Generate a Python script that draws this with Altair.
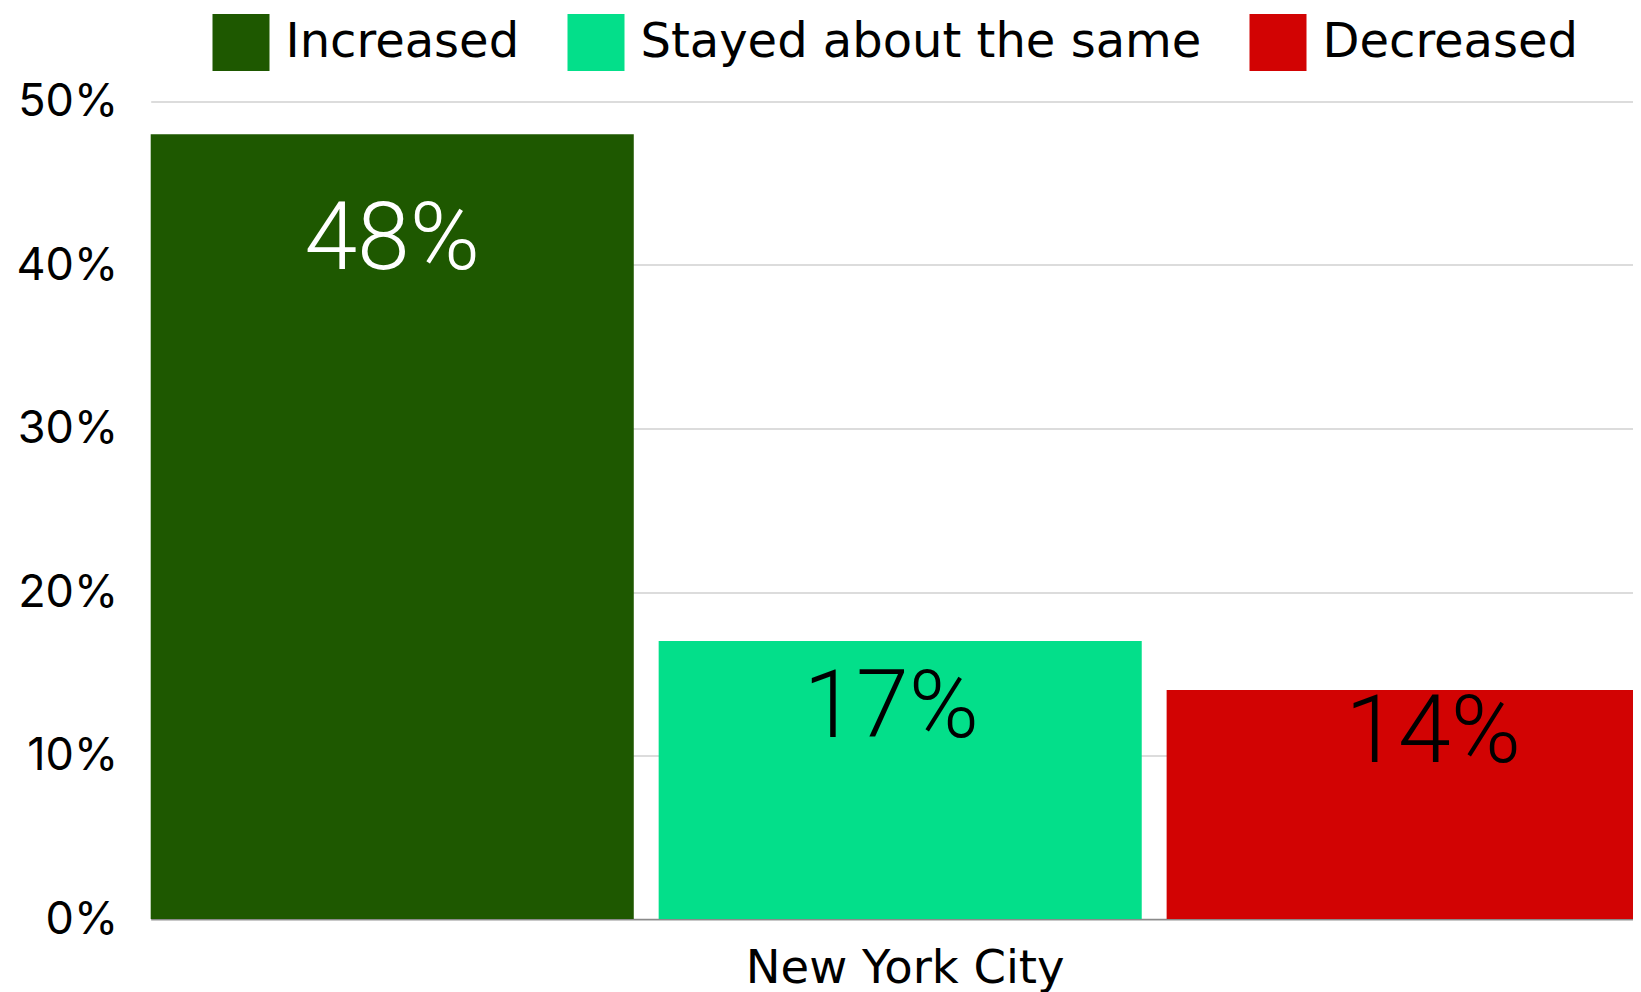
import altair as alt
import pandas as pd

# ---- data ----
city = "New York City"
categories = ["Increased", "Stayed about the same", "Decreased"]
values = [0.48, 0.17, 0.14]
colors = ["#1e5800", "#03df8a", "#d20303"]
y_ticks = [0, 0.1, 0.2, 0.3, 0.4, 0.5]

df = pd.DataFrame({"category": categories, "value": values})

TICK_FONT = "Inter"
TEXT_FONT = "DejaVu Sans"
LABEL_FONT = "Roboto"

x_enc = alt.X(
    "category:N", sort=categories, title=city,
    scale=alt.Scale(paddingInner=0.049, paddingOuter=0),
    axis=alt.Axis(labels=False, ticks=False, grid=False,
                  domainColor="#8a8a8a", domainWidth=1.5,
                  titleFont=TEXT_FONT, titleFontSize=46.5, titleFontWeight="normal",
                  titleColor="#000000", titleX=754, titleY=63,
                  titleBaseline="alphabetic", titleAlign="center"),
)
y_enc = alt.Y(
    "value:Q", title=None,
    scale=alt.Scale(domain=[0, 0.5]),
    axis=alt.Axis(values=y_ticks, format=".0%", labelFontSize=45, labelFont=TICK_FONT,
                  labelColor="#000000", labelPadding=33, ticks=False, domain=False,
                  gridColor="#d0d0d0", gridWidth=1.5),
)

bars = alt.Chart(df).mark_bar().encode(
    x=x_enc, y=y_enc,
    color=alt.Color(
        "category:N", sort=categories,
        scale=alt.Scale(domain=categories, range=colors),
        legend=alt.Legend(
            orient="none", legendX=61.8, legendY=-87.5, direction="horizontal",
            title=None, symbolType="square", symbolSize=3249, symbolStrokeWidth=0,
            symbolOpacity=1, labelFontSize=48, labelFont=TEXT_FONT, labelColor="#000000",
            labelOffset=16, columnPadding=48, padding=0, labelLimit=0,
        ),
    ),
)

# label styling per bar: (dy, dx, colour)
label_style = {
    "Increased": (105.5, 0, "#ffffff"),
    "Stayed about the same": (67, -9, "#000000"),
    "Decreased": (42.5, 25, "#000000"),
}

layers = [bars]
for cat in categories:
    dy, dx, col = label_style[cat]
    layers.append(
        alt.Chart(df).transform_filter(alt.datum.category == cat).mark_text(
            font=LABEL_FONT, fontWeight=300, fontSize=95, baseline="middle",
            align="center", dy=dy, dx=dx, color=col,
        ).encode(
            x=x_enc, y=y_enc,
            text=alt.Text("value:Q", format=".0%"),
        )
    )

chart = alt.layer(*layers).properties(
    width=1499, height=817.5,
    autosize=alt.AutoSizeParams(type="none"),
    padding={"left": 142.7, "top": 93.5, "right": -16.7, "bottom": 73},
    background="#ffffff",
).configure_view(stroke=None)

chart.save("out.html", embed_options={"renderer": "svg", "actions": False})
